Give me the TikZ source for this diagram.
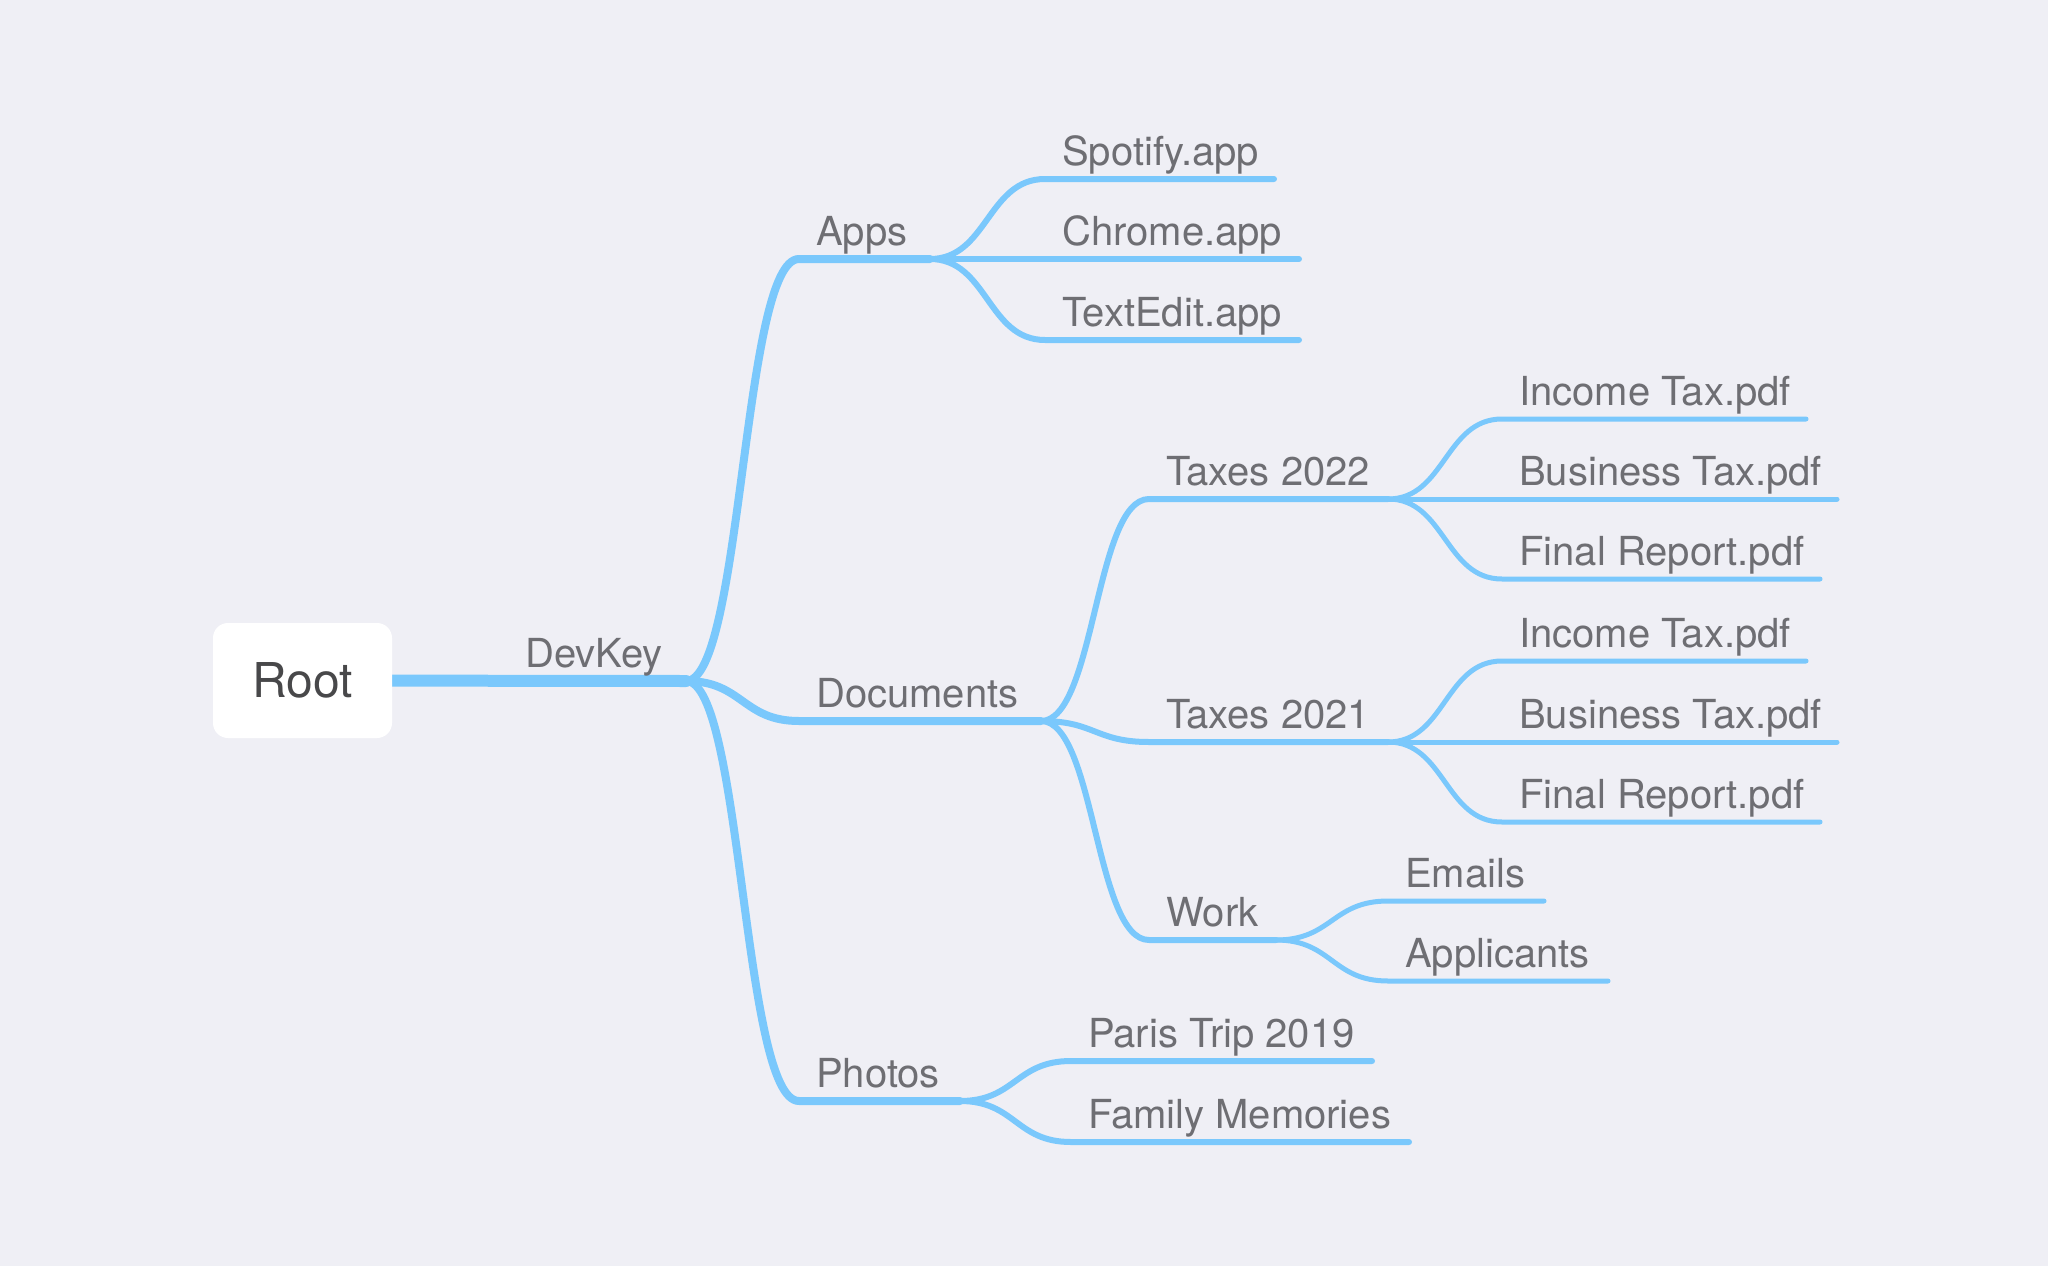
\documentclass[tikz,border=0pt]{standalone}
\usepackage{fontspec}
\setmainfont{TeX Gyre Heros}
\usetikzlibrary{calc}
\definecolor{bgc}{RGB}{239,239,245}
\definecolor{linec}{RGB}{122,200,252}
\definecolor{textc}{RGB}{110,110,115}
\definecolor{roottextc}{RGB}{72,72,74}
\tikzset{
  conn/.style={draw=linec, line cap=round, line join=round},
  lbl/.style={anchor=base west, inner sep=0pt, text=textc, font=\fontsize{40}{42}\selectfont},
  rootbox/.style={fill=white, rounded corners=15pt, minimum width=179pt, minimum height=115pt, inner sep=0pt, text=roottextc, font=\fontsize{48}{50}\selectfont},
}
\newcommand\mmbranch[3]{\draw[conn, line width=#3] let \p1=(#1), \p2=(#2-s) in (#1) .. controls ({(\x1+\x2)/2},\y1) and ({(\x1+\x2)/2},\y2) .. (#2-s) -- (#2-e);}
\newcommand\mmlabel[2]{\node[lbl] (#1) at ([xshift=17pt,yshift=14pt]#1-s) {#2};}
\begin{document}
\begin{tikzpicture}[x=1pt,y=-1pt]
\useasboundingbox[fill=bgc] (0,0) rectangle (2048,1266);
% coordinates
\coordinate (devkey-e) at (686,681);
\coordinate (apps-s) at (799,259); \coordinate (apps-e) at (930,259);
\coordinate (docs-s) at (799,721); \coordinate (docs-e) at (1041,721);
\coordinate (photos-s) at (799,1101); \coordinate (photos-e) at (960,1101);
\coordinate (spotify-s) at (1045,179); \coordinate (spotify-e) at (1274,179);
\coordinate (chrome-s) at (1045,259); \coordinate (chrome-e) at (1299,259);
\coordinate (textedit-s) at (1045,340); \coordinate (textedit-e) at (1299,340);
\coordinate (tax22-s) at (1149,499); \coordinate (tax22-e) at (1388,499);
\coordinate (tax21-s) at (1149,742); \coordinate (tax21-e) at (1388,742);
\coordinate (work-s) at (1149,940); \coordinate (work-e) at (1276,940);
\coordinate (paris-s) at (1071,1061); \coordinate (paris-e) at (1372,1061);
\coordinate (family-s) at (1071,1142); \coordinate (family-e) at (1409,1142);
\coordinate (inc22-s) at (1502,419); \coordinate (inc22-e) at (1806,419);
\coordinate (bus22-s) at (1502,499); \coordinate (bus22-e) at (1837,499);
\coordinate (fin22-s) at (1502,579); \coordinate (fin22-e) at (1820,579);
\coordinate (inc21-s) at (1502,661); \coordinate (inc21-e) at (1806,661);
\coordinate (bus21-s) at (1502,742); \coordinate (bus21-e) at (1837,742);
\coordinate (fin21-s) at (1502,822); \coordinate (fin21-e) at (1820,822);
\coordinate (emails-s) at (1388,901); \coordinate (emails-e) at (1544,901);
\coordinate (applicants-s) at (1388,981); \coordinate (applicants-e) at (1608,981);
% root connector
\coordinate (root-c) at (302.5,680.5);
\draw[conn, line width=12pt] (root-c) -- (devkey-e);
\node[rootbox] (root) at (root-c) {Root};
\node[lbl] (devkey) at (525,667) {DevKey};
% level 1
\mmbranch{devkey-e}{apps}{8pt}
\mmbranch{devkey-e}{docs}{8pt}
\mmbranch{devkey-e}{photos}{8pt}
% level 2
\mmbranch{apps-e}{spotify}{6pt}
\mmbranch{apps-e}{chrome}{6pt}
\mmbranch{apps-e}{textedit}{6pt}
\mmbranch{docs-e}{tax22}{6pt}
\mmbranch{docs-e}{tax21}{6pt}
\mmbranch{docs-e}{work}{6pt}
\mmbranch{photos-e}{paris}{6pt}
\mmbranch{photos-e}{family}{6pt}
% level 3
\mmbranch{tax22-e}{inc22}{5pt}
\mmbranch{tax22-e}{bus22}{5pt}
\mmbranch{tax22-e}{fin22}{5pt}
\mmbranch{tax21-e}{inc21}{5pt}
\mmbranch{tax21-e}{bus21}{5pt}
\mmbranch{tax21-e}{fin21}{5pt}
\mmbranch{work-e}{emails}{5pt}
\mmbranch{work-e}{applicants}{5pt}
% labels
\mmlabel{apps}{Apps}
\mmlabel{docs}{Documents}
\mmlabel{photos}{Photos}
\mmlabel{spotify}{Spotify.app}
\mmlabel{chrome}{Chrome.app}
\mmlabel{textedit}{TextEdit.app}
\mmlabel{tax22}{Taxes 2022}
\mmlabel{tax21}{Taxes 2021}
\mmlabel{work}{Work}
\mmlabel{paris}{Paris Trip 2019}
\mmlabel{family}{Family Memories}
\mmlabel{inc22}{Income Tax.pdf}
\mmlabel{bus22}{Business Tax.pdf}
\mmlabel{fin22}{Final Report.pdf}
\mmlabel{inc21}{Income Tax.pdf}
\mmlabel{bus21}{Business Tax.pdf}
\mmlabel{fin21}{Final Report.pdf}
\mmlabel{emails}{Emails}
\mmlabel{applicants}{Applicants}
\end{tikzpicture}
\end{document}
